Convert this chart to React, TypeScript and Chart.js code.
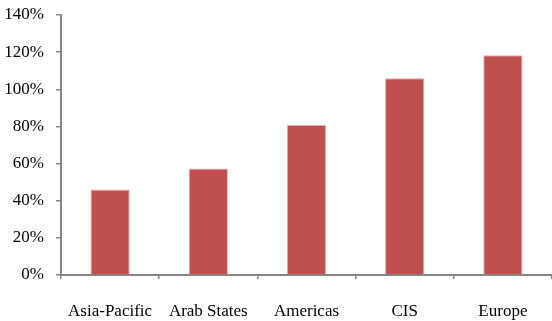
import React, { useEffect, useRef } from "react";
import { Chart, registerables } from "chart.js";

Chart.register(...registerables);

const regions = ["Asia-Pacific", "Arab States", "Americas", "CIS", "Europe"];
const shares = [46.1, 57.4, 80.8, 105.9, 118.3];

const FONT = "'Liberation Serif', serif";
const AXIS = "#868686";

export default function App() {
  const ref = useRef<HTMLCanvasElement>(null);

  useEffect(() => {
    if (!ref.current) return;
    const chart = new Chart(ref.current, {
      type: "bar",
      data: {
        labels: regions,
        datasets: [
          {
            data: shares,
            backgroundColor: "#C0504D",
            borderColor: "#E6B0AE",
            borderWidth: { left: 1, right: 1, top: 1, bottom: 0 },
            barPercentage: 0.4,
            categoryPercentage: 1,
          },
        ],
      },
      options: {
        animation: false,
        responsive: false,
        maintainAspectRatio: false,
        layout: { padding: { top: 15, right: 0, left: 0, bottom: 0 } },
        plugins: { legend: { display: false }, tooltip: { enabled: false } },
        scales: {
          x: {
            offset: true,
            grid: {
              offset: true,
              drawOnChartArea: false,
              drawTicks: true,
              tickLength: 4,
              color: AXIS,
              lineWidth: 1.5,
            },
            border: { color: AXIS, width: 2 },
            ticks: {
              color: "#000",
              padding: 22,
              font: { family: FONT, size: 17 },
              maxRotation: 0,
            },
            afterFit: (s: any) => {
              s.height = 46;
              s.paddingLeft = 0;
              s.paddingRight = 0;
            },
          },
          y: {
            min: 0,
            max: 140,
            grid: {
              drawOnChartArea: false,
              drawTicks: true,
              tickLength: 5,
              color: AXIS,
              lineWidth: 1.5,
            },
            border: { color: AXIS, width: 2 },
            ticks: {
              stepSize: 20,
              color: "#000",
              padding: 12,
              font: { family: FONT, size: 17 },
              callback: (v: any) => `${v}%`,
            },
            afterFit: (s: any) => {
              s.width = 61;
              s.paddingTop = 0;
              s.paddingBottom = 0;
            },
          },
        },
      },
    });
    return () => chart.destroy();
  }, []);

  return (
    <div style={{ position: "absolute", left: 0, top: 0, width: 552, height: 321, background: "#fff" }}>
      <canvas ref={ref} width={552} height={321} style={{ width: 552, height: 321, display: "block" }} />
    </div>
  );
}
